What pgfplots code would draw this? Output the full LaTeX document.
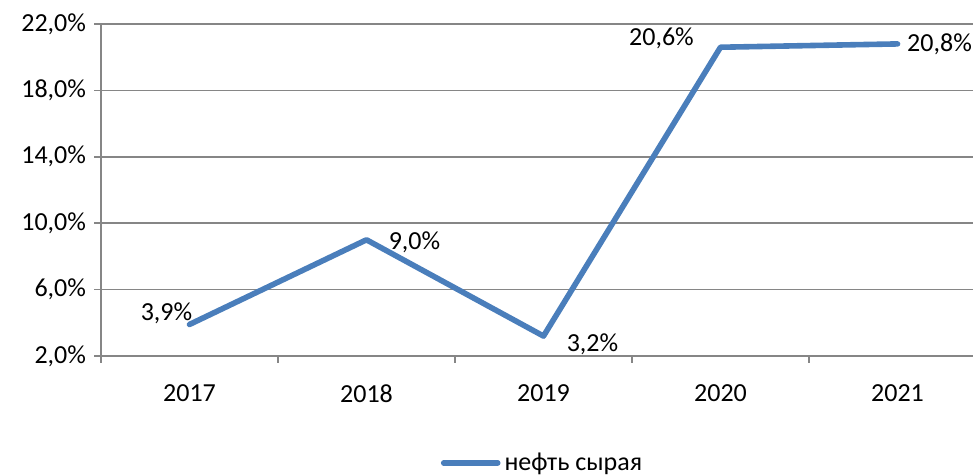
\documentclass[border=0pt]{standalone}
\usepackage{fontspec}
\setmainfont{Carlito}
\usepackage{pgfplots}
\usepackage{pgfplotstable}
\pgfplotsset{compat=1.18}
\definecolor{serblue}{RGB}{74,126,187}
\definecolor{gridgray}{RGB}{134,134,134}
\pgfplotstableread{
x y dx dy
1 3.9 -11.5 5.6
2 9.0 24 -1.2
3 3.2 24.5 -3.9
4 20.6 -29.5 4.4
5 20.8 21 0
}\datatable
\begin{document}
\begin{tikzpicture}[font=\fontsize{13}{15}\selectfont]
\useasboundingbox (0,0) rectangle (486.5pt,237.5pt);
\clip (0,0) rectangle (486.5pt,237.5pt);
\begin{axis}[
  at={(50.5pt,59.5pt)}, anchor=south west,
  scale only axis, width=442.5pt, height=166pt,
  xmin=0.5, xmax=5.5, ymin=2, ymax=22,
  xtick={1,2,3,4,5},
  xticklabels={2017,2018,2019,2020,2021},
  minor xtick={0.5,1.5,2.5,3.5,4.5,5.5},
  ytick={2,6,10,14,18,22},
  yticklabels={{2,0\%},{6,0\%},{10,0\%},{14,0\%},{18,0\%},{22,0\%}},
  axis x line*=bottom, axis y line*=left,
  axis line style={gridgray, line width=0.75pt, -},
  ymajorgrids, grid style={gridgray, line width=0.75pt},
  tick align=outside,
  major tick length=3.5pt, minor tick length=3.5pt,
  xtick style={draw=none},
  minor x tick style={draw=gridgray, line width=0.75pt},
  ytick style={gridgray, line width=0.75pt},
  /pgf/number format/assume math mode=true,
  tick label style={font=\fontsize{13}{15}\selectfont, text=black},
  xticklabel style={yshift=-7.5pt},
  yticklabel style={xshift=-0.5pt},
  legend style={at={(0.5,-0.322)}, anchor=center, draw=none, fill=none,
    font=\fontsize{13}{15}\selectfont, inner sep=0pt},
  legend image code/.code={\draw[serblue, line width=2.8pt, line cap=round] (0pt,0pt) -- (27pt,0pt);},
  clip=false,
]
\addplot[serblue, line width=2.8pt, line join=round, line cap=round,
  nodes near coords={\pgfmathprintnumber[fixed, fixed zerofill, precision=1, use comma]{\pgfplotspointmeta}\%},
  point meta=explicit,
  visualization depends on={\thisrow{dx} \as \mydx},
  visualization depends on={\thisrow{dy} \as \mydy},
  every node near coord/.append style={anchor=center, inner sep=0pt, text=black,
    xshift=\mydx pt, yshift=\mydy pt, font=\fontsize{13}{15}\selectfont},
] table[x=x, y=y, meta=y] {\datatable};
\addlegendentry{нефть сырая}
\end{axis}
\end{tikzpicture}
\end{document}
